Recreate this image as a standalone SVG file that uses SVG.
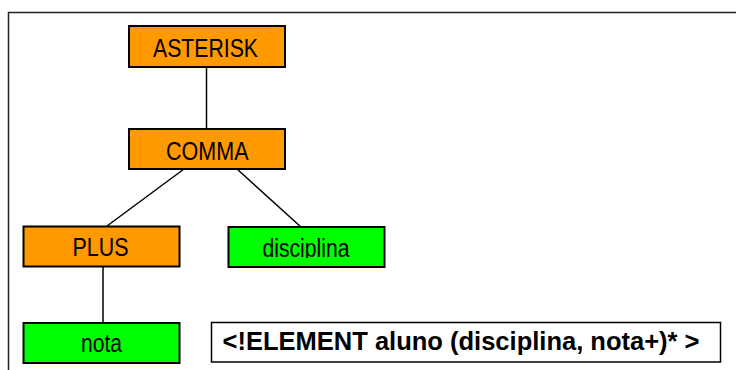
<svg xmlns="http://www.w3.org/2000/svg" width="736" height="370" viewBox="0 0 736 370">
  <style>
    .op { fill: #FF9900; stroke: #000; stroke-width: 2; }
    .leaf { fill: #00FF00; stroke: #000; stroke-width: 2; }
    .lbl { font-family: "Liberation Sans", Arial, sans-serif; font-size: 25px; fill: #000; text-anchor: start; }
    .edge { stroke: #000; stroke-width: 1.5; fill: none; }
  </style>
  <defs>
    <clipPath id="clipDisc"><rect x="229" y="228" width="155" height="30"/></clipPath>
  </defs>
  <rect x="0" y="0" width="736" height="370" fill="#fff"/>
  <rect id="frame" x="8.5" y="12.5" width="740" height="370" fill="none" stroke="#222" stroke-width="1.5"/>

  <g id="connectors">
    <line class="edge" x1="206.5" y1="67" x2="206.5" y2="129"/>
    <line class="edge" x1="184" y1="169" x2="107" y2="226"/>
    <line class="edge" x1="237" y1="169" x2="301" y2="227"/>
    <line class="edge" x1="103" y1="267" x2="103" y2="323"/>
  </g>

  <g id="asterisk">
    <rect class="op" x="129" y="26" width="156" height="41"/>
    <text class="lbl" x="153" y="56.5" textLength="105" lengthAdjust="spacingAndGlyphs">ASTERISK</text>
  </g>
  <g id="comma">
    <rect class="op" x="129" y="129" width="156" height="40"/>
    <text class="lbl" x="166" y="160" textLength="82.5" lengthAdjust="spacingAndGlyphs">COMMA</text>
  </g>
  <g id="plus">
    <rect class="op" x="23.5" y="226.5" width="156" height="40"/>
    <text class="lbl" x="72.5" y="256" textLength="56" lengthAdjust="spacingAndGlyphs">PLUS</text>
  </g>
  <g id="disciplina">
    <rect class="leaf" x="228.5" y="227" width="156" height="40"/>
    <text class="lbl" x="262.5" y="257" textLength="87" lengthAdjust="spacingAndGlyphs" clip-path="url(#clipDisc)">disciplina</text>
  </g>
  <g id="nota">
    <rect class="leaf" x="23.5" y="323" width="156" height="40"/>
    <text class="lbl" x="81" y="352.3" textLength="41" lengthAdjust="spacingAndGlyphs">nota</text>
  </g>
  <g id="element-decl">
    <rect x="211.5" y="322.5" width="509" height="39.5" fill="#fff" stroke="#000" stroke-width="1.5"/>
    <text class="lbl" x="222.5" y="349.5" font-weight="bold" textLength="477" lengthAdjust="spacingAndGlyphs">&lt;!ELEMENT aluno (disciplina, nota+)* &gt;</text>
  </g>
</svg>
